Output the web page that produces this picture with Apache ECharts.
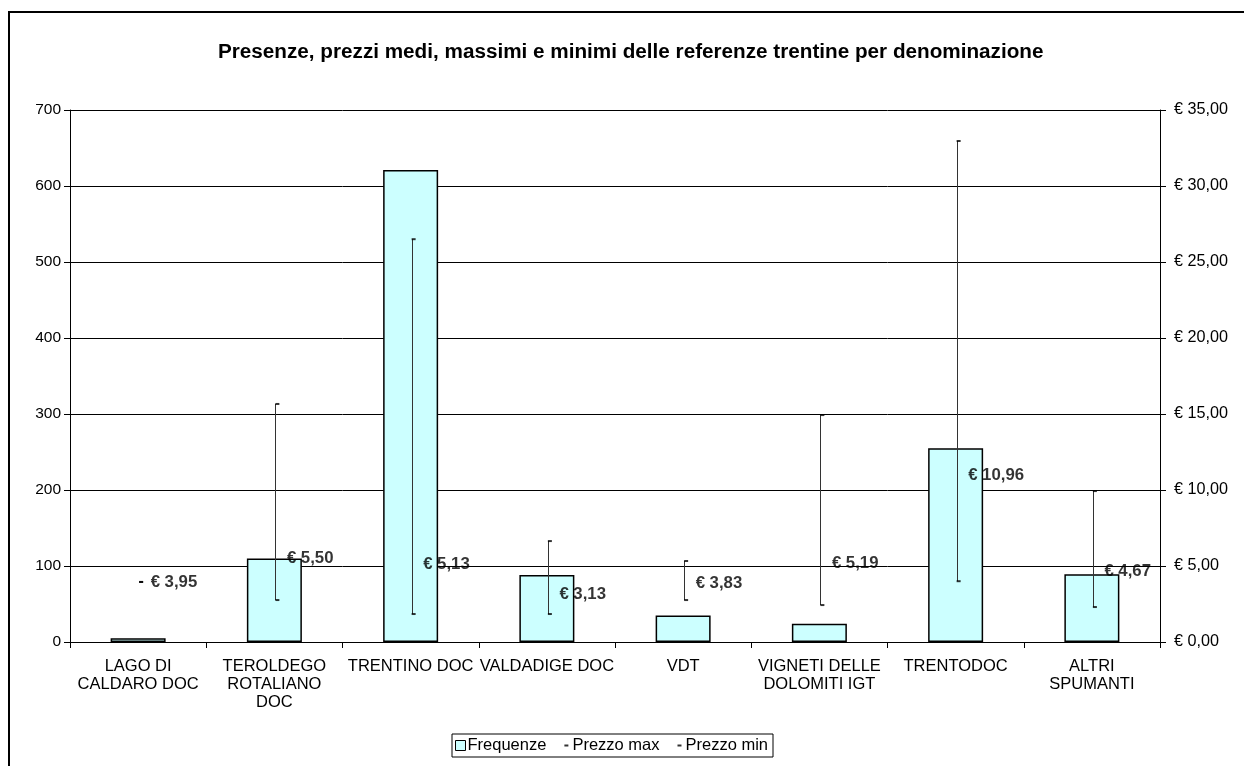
<!DOCTYPE html>
<html>
<head>
<meta charset="utf-8">
<script src="https://cdn.jsdelivr.net/npm/echarts@6/dist/echarts.min.js"></script>
<style>
  html, body { margin: 0; padding: 0; background: #fff; }
  #chart { width: 1244px; height: 766px; }
</style>
</head>
<body>
<div id="chart"></div>
<script>
// Denominazioni
const categories = [
  'LAGO DI\nCALDARO DOC',
  'TEROLDEGO\nROTALIANO\nDOC',
  'TRENTINO DOC',
  'VALDADIGE DOC',
  'VDT',
  'VIGNETI DELLE\nDOLOMITI IGT',
  'TRENTODOC',
  'ALTRI\nSPUMANTI'
];
// Numero di referenze per denominazione
const frequenze = [5, 110, 621, 88, 35, 24, 255, 89];
// Prezzi (euro)
const prezzoMax = [3.95, 15.66, 26.5, 6.64, 5.33, 14.93, 32.96, 9.93];
const prezzoMin = [3.95, 2.76, 1.84, 1.84, 2.76, 2.43, 4.0, 2.3];
const prezzoMedio = [3.95, 5.50, 5.13, 3.13, 3.83, 5.19, 10.96, 4.67];
// Tick labels
const leftTicks = [0, 100, 200, 300, 400, 500, 600, 700];
const rightTicks = [0, 5, 10, 15, 20, 25, 30, 35];

const FONT = 'Liberation Sans, Arial, sans-serif';
const euro = v => '€ ' + v.toFixed(2).replace('.', ',');

const chart = echarts.init(document.getElementById('chart'), null, { renderer: 'canvas' });

const dashIcon = 'path://M0,0h0.01v0.01h-0.01z M9.99,9.99h0.01v0.01h-0.01z M4,4h4v2h-4z';

chart.setOption({
  backgroundColor: '#fff',
  animation: false,
  textStyle: { fontFamily: FONT },
  title: {
    text: 'Presenze, prezzi medi, massimi e minimi delle referenze trentine per denominazione',
    left: 213,
    top: 37,
    textStyle: { fontFamily: FONT, fontSize: 20.7, fontWeight: 'bold', color: '#000' }
  },
  graphic: [{
    type: 'rect',
    shape: { x: 9, y: 12, width: 1260, height: 800 },
    style: { fill: 'none', stroke: '#000', lineWidth: 2 },
    silent: true
  }],
  legend: {
    bottom: 9,
    left: 452,
    borderColor: '#000',
    borderWidth: 1,
    borderRadius: 0,
    padding: [3, 5, 3, 3],
    itemGap: 14,
    itemWidth: 10,
    itemHeight: 10,
    textStyle: { fontFamily: FONT, fontSize: 16.5, color: '#000', padding: [0, 0, 0, -3] },
    data: [
      { name: 'Frequenze', icon: 'rect', itemStyle: { color: '#ccffff', borderColor: '#000', borderWidth: 1 } },
      { name: 'Prezzo max', icon: dashIcon, itemStyle: { color: '#000' } },
      { name: 'Prezzo min', icon: dashIcon, itemStyle: { color: '#000' } }
    ]
  },
  grid: { left: 70, right: 84, top: 110, bottom: 124 },
  xAxis: {
    type: 'category',
    data: categories,
    boundaryGap: true,
    axisLine: { lineStyle: { color: '#000', width: 1 } },
    axisTick: { show: true, length: 6, lineStyle: { color: '#000' } },
    axisLabel: {
      interval: 0,
      margin: 15,
      fontFamily: FONT, fontSize: 16.5, color: '#000', lineHeight: 18
    }
  },
  yAxis: [{
    type: 'value',
    min: 0, max: 700, interval: 100,
    axisLine: { show: true, lineStyle: { color: '#000' } },
    axisTick: { show: true, length: 6, lineStyle: { color: '#000' } },
    axisLabel: {
      margin: 9, fontFamily: FONT, fontSize: 15.5, color: '#000',
      formatter: v => leftTicks.includes(v) ? String(v) : ''
    },
    splitLine: { show: true, lineStyle: { color: '#000', width: 1 } }
  }, {
    type: 'value',
    min: 0, max: 35, interval: 5,
    position: 'right',
    axisLine: { show: true, lineStyle: { color: '#000' } },
    axisTick: { show: true, length: 6, lineStyle: { color: '#000' } },
    axisLabel: {
      margin: 14, fontFamily: FONT, fontSize: 16.2, color: '#000',
      formatter: v => rightTicks.includes(v) ? euro(v) : ''
    },
    splitLine: { show: false }
  }],
  series: [{
    name: 'Frequenze',
    type: 'bar',
    yAxisIndex: 0,
    data: frequenze,
    barWidth: 55,
    itemStyle: { color: '#ccffff', borderColor: '#000', borderWidth: 1.5 },
    z: 2
  }, {
    // linee massimo-minimo
    name: 'range',
    type: 'custom',
    yAxisIndex: 1,
    data: prezzoMax.map((v, i) => [i, v, prezzoMin[i]]),
    renderItem: (params, api) => {
      const top = api.coord([api.value(0), api.value(1)]);
      const bot = api.coord([api.value(0), api.value(2)]);
      const x = Math.round(top[0]) + 1.5;
      return {
        type: 'line',
        shape: { x1: x, y1: top[1], x2: x, y2: bot[1] },
        style: { stroke: '#333', lineWidth: 1 }
      };
    },
    z: 3
  }, {
    name: 'Prezzo max',
    type: 'scatter',
    yAxisIndex: 1,
    data: prezzoMax,
    symbol: 'rect',
    symbolSize: [4, 2],
    symbolOffset: [3, 0],
    itemStyle: { color: '#000' },
    z: 4
  }, {
    name: 'Prezzo min',
    type: 'scatter',
    yAxisIndex: 1,
    data: prezzoMin,
    symbol: 'rect',
    symbolSize: [4, 2],
    symbolOffset: [3, 0],
    itemStyle: { color: '#000' },
    z: 4
  }, {
    name: 'Prezzo medio',
    type: 'scatter',
    yAxisIndex: 1,
    data: prezzoMedio,
    symbolSize: 1,
    itemStyle: { color: 'rgba(0,0,0,0)' },
    label: {
      show: true,
      position: 'right',
      distance: 12,
      fontFamily: FONT, fontSize: 16.8, fontWeight: 'bold', color: '#000',
      formatter: p => euro(p.value)
    },
    z: 5
  }]
});
</script>
</body>
</html>
